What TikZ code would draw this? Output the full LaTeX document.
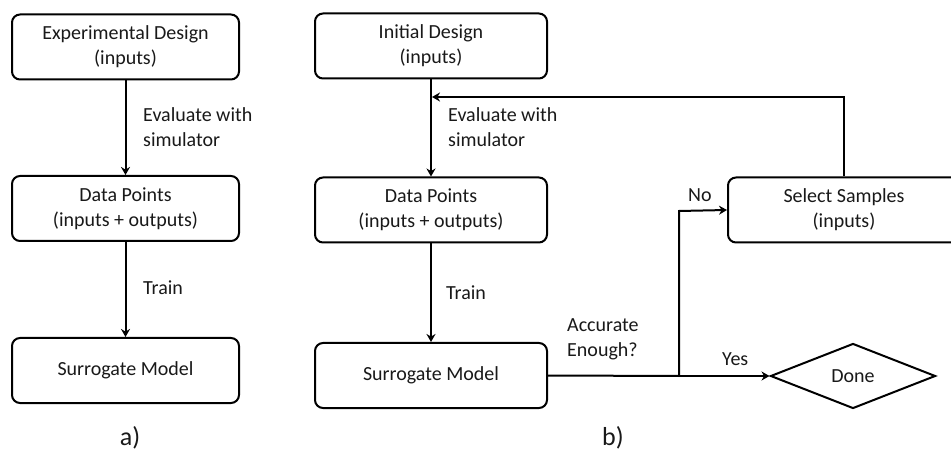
\documentclass[tikz,border=0pt]{standalone}
\usepackage{fontspec}
\setmainfont{Carlito}
\usetikzlibrary{arrows.meta,shapes.geometric}
\begin{document}
\begin{tikzpicture}[x=1pt,y=1pt,
  every node/.style={text=black!90, font=\fontsize{20}{25}\selectfont},
  box/.style={draw=black, line width=2pt, rounded corners=8pt, minimum width=227pt, minimum height=65pt, align=center, inner sep=0pt},
  lbl/.style={align=left, anchor=west, inner sep=0pt},
  conn/.style={draw=black, line width=2pt},
  arr/.style={conn, -{Stealth[length=8pt,width=9pt]}}
]
\clip (0,0) rectangle (951,453);
\fill[white] (0,0) rectangle (951,453);
% a)
\node[box] (ed) at (125.5,406) {Experimental Design\\(inputs)};
\node[box] (dp1) at (125.5,244.5) {Data Points\\(inputs + outputs)};
\node[box] (sm1) at (125.5,82.5) {Surrogate Model};
\draw[arr] (ed) -- (dp1);
\draw[arr] (dp1) -- (sm1);
\node[lbl] (l1) at (143,326) {Evaluate with\\simulator};
\node[lbl] (l2) at (143,165) {Train};
\node[font=\fontsize{26}{30}\selectfont] (pa) at (130,15) {a)};
% b)
\node[box, minimum width=232pt] (id) at (431,407) {Initial Design\\(inputs)};
\node[box, minimum width=232pt] (dp2) at (431,243) {Data Points\\(inputs + outputs)};
\node[box, minimum width=232pt] (sm2) at (431,77.5) {Surrogate Model};
\node[box, minimum width=232pt] (ss) at (844,243) {Select Samples\\(inputs)};
\node[draw=black, line width=2pt, diamond, aspect=2.55, minimum width=165pt, minimum height=65pt, inner sep=0pt] (done) at (853,77) {Done};
\draw[arr] (id) -- (dp2);
\draw[arr] (dp2) -- (sm2);
\coordinate (fbtop) at (844,356);
\coordinate (fbend) at (431,356);
\coordinate (jn) at (679,77);
\coordinate (nobend) at (679,242);
\draw[arr] (ss.north) -- (fbtop) -- ([xshift=1pt]fbend);
\draw[conn] (sm2.east) -- (jn);
\draw[arr] (jn) -- (done.west);
\draw[arr] (jn) -- (nobend) -- (ss.west);
\node[lbl] (l3) at (448,326) {Evaluate with\\simulator};
\node[lbl] (l4) at (446,160) {Train};
\node[lbl] (l5) at (567,114) {Accurate\\Enough?};
\node[lbl] (l6) at (688,258) {No};
\node[lbl] (l7) at (722,94) {Yes};
\node[font=\fontsize{26}{30}\selectfont] (pb) at (613,15) {b)};
\end{tikzpicture}
\end{document}
